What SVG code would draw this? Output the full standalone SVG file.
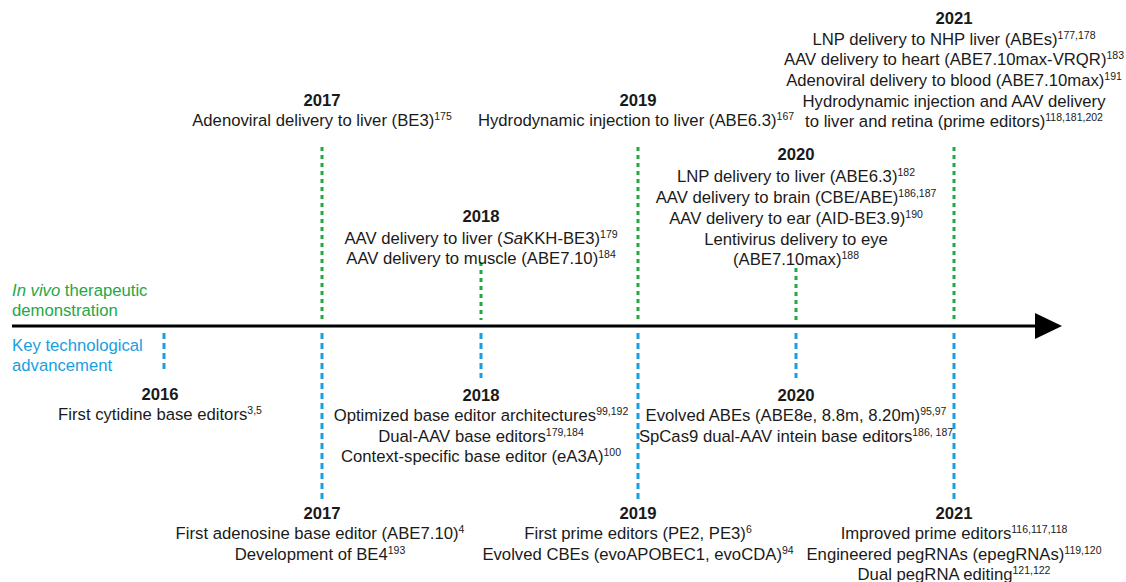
<svg xmlns="http://www.w3.org/2000/svg" width="1126" height="582" viewBox="0 0 1126 582">
<style>
text{font-family:"Liberation Sans",Arial,sans-serif;font-size:16.7px;fill:#1a1a1a;text-anchor:middle}
.y{font-weight:bold}
.s{font-size:10.5px}
.g{stroke:#22a845;stroke-width:3;stroke-dasharray:4 4;fill:none}
.b{stroke:#1a9ee0;stroke-width:3;stroke-dasharray:6 4;fill:none}
.lg{fill:#22a845;text-anchor:start}
.lb{fill:#1a9ee0;text-anchor:start}
</style>
<rect width="1126" height="582" fill="#fff"/>
<g id="connectors">
<line x1="12" y1="326" x2="1038" y2="326" stroke="#000" stroke-width="3"/>
<polygon points="1035,313 1062,326 1035,339" fill="#000"/>
<line class="g" x1="322" y1="147" x2="322" y2="320"/>
<line class="g" x1="481" y1="262" x2="481" y2="320"/>
<line class="g" x1="638" y1="147" x2="638" y2="320"/>
<line class="g" x1="796" y1="268" x2="796" y2="320"/>
<line class="g" x1="954" y1="147" x2="954" y2="320"/>
<line class="b" x1="164" y1="333" x2="164" y2="373"/>
<line class="b" x1="322" y1="333" x2="322" y2="503"/>
<line class="b" x1="481" y1="333" x2="481" y2="378"/>
<line class="b" x1="638" y1="333" x2="638" y2="503"/>
<line class="b" x1="796" y1="333" x2="796" y2="378"/>
<line class="b" x1="954" y1="333" x2="954" y2="503"/>
</g>
<g id="legend">
<text class="lg" x="12" y="296"><tspan font-style="italic">In vivo</tspan> therapeutic</text>
<text class="lg" x="12" y="316">demonstration</text>
<text class="lb" x="12" y="351">Key technological</text>
<text class="lb" x="12" y="371">advancement</text>
</g>
<g id="v2017">
<text class="y" x="322" y="106">2017</text>
<text x="322" y="126">Adenoviral delivery to liver (BE3)<tspan class="s" dy="-6">175</tspan></text>
</g>
<g id="v2018">
<text class="y" x="481" y="222">2018</text>
<text x="481" y="244">AAV delivery to liver (<tspan font-style="italic">Sa</tspan>KKH-BE3)<tspan class="s" dy="-6">179</tspan></text>
<text x="481" y="264">AAV delivery to muscle (ABE7.10)<tspan class="s" dy="-6">184</tspan></text>
</g>
<g id="v2019">
<text class="y" x="638" y="106">2019</text>
<text x="636" y="126">Hydrodynamic injection to liver (ABE6.3)<tspan class="s" dy="-6">167</tspan></text>
</g>
<g id="v2020">
<text class="y" x="796" y="160">2020</text>
<text x="796" y="182">LNP delivery to liver (ABE6.3)<tspan class="s" dy="-6">182</tspan></text>
<text x="796" y="203">AAV delivery to brain (CBE/ABE)<tspan class="s" dy="-6">186,187</tspan></text>
<text x="796" y="224">AAV delivery to ear (AID-BE3.9)<tspan class="s" dy="-6">190</tspan></text>
<text x="796" y="245">Lentivirus delivery to eye</text>
<text x="796" y="265">(ABE7.10max)<tspan class="s" dy="-6">188</tspan></text>
</g>
<g id="v2021">
<text class="y" x="954" y="24">2021</text>
<text x="954" y="45">LNP delivery to NHP liver (ABEs)<tspan class="s" dy="-6">177,178</tspan></text>
<text x="954" y="65">AAV delivery to heart (ABE7.10max-VRQR)<tspan class="s" dy="-6">183</tspan></text>
<text x="954" y="86">Adenoviral delivery to blood (ABE7.10max)<tspan class="s" dy="-6">191</tspan></text>
<text x="954" y="107">Hydrodynamic injection and AAV delivery</text>
<text x="954" y="127">to liver and retina (prime editors)<tspan class="s" dy="-6">118,181,202</tspan></text>
</g>
<g id="k2016">
<text class="y" x="160" y="400">2016</text>
<text x="160" y="420">First cytidine base editors<tspan class="s" dy="-6">3,5</tspan></text>
</g>
<g id="k2018">
<text class="y" x="481" y="401">2018</text>
<text x="481" y="421">Optimized base editor architectures<tspan class="s" dy="-6">99,192</tspan></text>
<text x="481" y="442">Dual-AAV base editors<tspan class="s" dy="-6">179,184</tspan></text>
<text x="481" y="462">Context-specific base editor (eA3A)<tspan class="s" dy="-6">100</tspan></text>
</g>
<g id="k2020">
<text class="y" x="796" y="401">2020</text>
<text x="796" y="421">Evolved ABEs (ABE8e, 8.8m, 8.20m)<tspan class="s" dy="-6">95,97</tspan></text>
<text x="796" y="442">SpCas9 dual-AAV intein base editors<tspan class="s" dy="-6">186, 187</tspan></text>
</g>
<g id="k2017">
<text class="y" x="322" y="519">2017</text>
<text x="320" y="539">First adenosine base editor (ABE7.10)<tspan class="s" dy="-6">4</tspan></text>
<text x="320" y="560">Development of BE4<tspan class="s" dy="-6">193</tspan></text>
</g>
<g id="k2019">
<text class="y" x="638" y="519">2019</text>
<text x="638" y="539">First prime editors (PE2, PE3)<tspan class="s" dy="-6">6</tspan></text>
<text x="638" y="560">Evolved CBEs (evoAPOBEC1, evoCDA)<tspan class="s" dy="-6">94</tspan></text>
</g>
<g id="k2021">
<text class="y" x="954" y="519">2021</text>
<text x="954" y="539">Improved prime editors<tspan class="s" dy="-6">116,117,118</tspan></text>
<text x="954" y="560">Engineered pegRNAs (epegRNAs)<tspan class="s" dy="-6">119,120</tspan></text>
<text x="954" y="580">Dual pegRNA editing<tspan class="s" dy="-6">121,122</tspan></text>
</g>
</svg>
